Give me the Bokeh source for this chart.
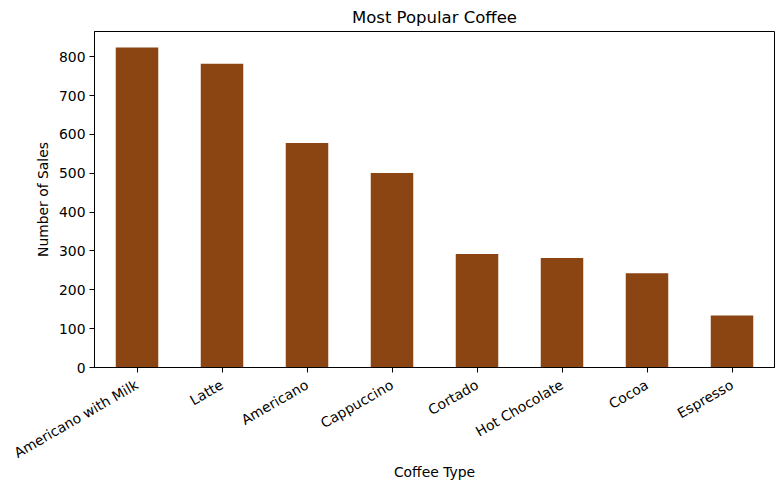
from bokeh.plotting import figure
from bokeh.models import Range1d, FactorRange, SingleIntervalTicker, ColumnDataSource
from bokeh.embed import file_html
from bokeh.resources import INLINE
import math

coffee_types = ["Americano with Milk", "Latte", "Americano", "Cappuccino",
                "Cortado", "Hot Chocolate", "Cocoa", "Espresso"]
sales = [824, 782, 578, 501, 292, 282, 243, 134]

src = ColumnDataSource(dict(x=coffee_types, y=sales))

p = figure(x_range=FactorRange(*coffee_types, range_padding=0),
           y_range=Range1d(0, max(sales) * 1.05),
           frame_width=680, frame_height=336,
           min_border_left=94, min_border_right=1, min_border_top=26, min_border_bottom=0,
           output_backend="svg", toolbar_location=None, title="Most Popular Coffee")

p.vbar(x="x", top="y", width=0.5, source=src, color="#8B4513", line_color=None)

p.title.align = "center"
p.title.text_font = "DejaVu Sans"
p.title.text_font_size = "16.5px"
p.title.text_font_style = "normal"
p.title.text_color = "black"

p.xgrid.visible = False
p.ygrid.visible = False
p.outline_line_color = "black"
p.outline_line_width = 1
p.outline_line_alpha = 1

p.yaxis.ticker = SingleIntervalTicker(interval=100)
p.yaxis.minor_tick_line_color = None

for ax in (p.xaxis[0], p.yaxis[0]):
    ax.major_tick_in = 0
    ax.major_tick_out = 5
    ax.axis_line_color = "black"
    ax.major_tick_line_color = "black"
    ax.major_label_text_font = "DejaVu Sans"
    ax.major_label_text_font_size = "13.9px"
    ax.major_label_text_color = "black"
    ax.axis_label_text_font = "DejaVu Sans"
    ax.axis_label_text_font_size = "13.9px"
    ax.axis_label_text_font_style = "normal"
    ax.axis_label_text_color = "black"

p.xaxis.axis_label = "Coffee Type"
p.yaxis.axis_label = "Number of Sales"
p.xaxis.major_label_orientation = math.pi / 6
p.xaxis.major_label_standoff = 11
p.yaxis.major_label_standoff = 4
p.xaxis.axis_label_standoff = -7

open("out.html", "w").write(file_html(p, INLINE))
